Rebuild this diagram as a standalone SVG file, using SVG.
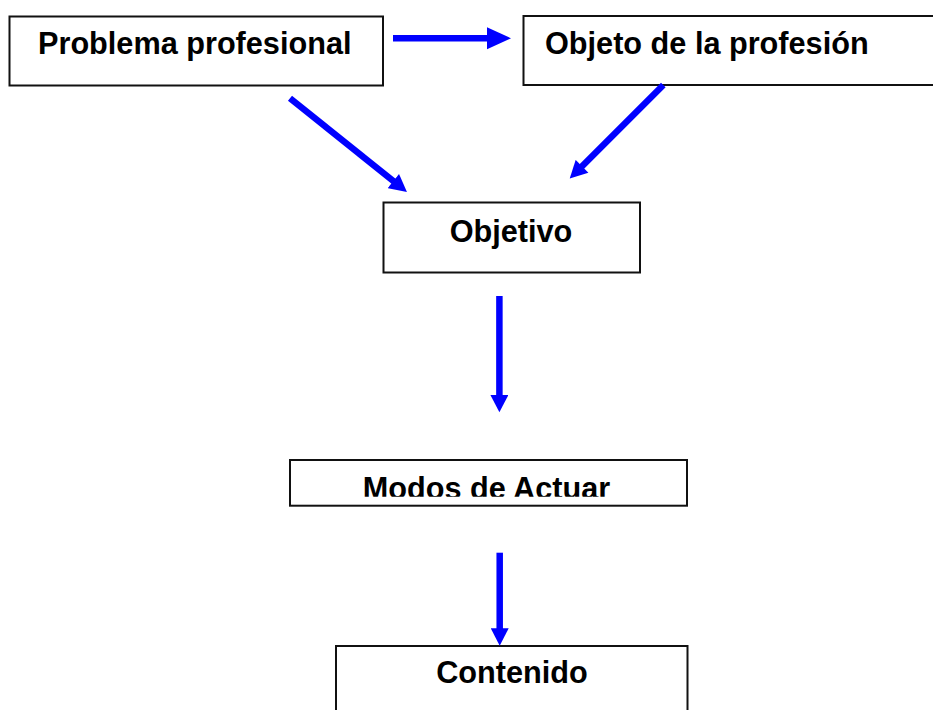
<svg xmlns="http://www.w3.org/2000/svg" width="933" height="710" viewBox="0 0 933 710">
<style>
.box{fill:#fff;stroke:#111;stroke-width:2}
.lbl{font-family:"Liberation Sans",Arial,sans-serif;font-weight:bold;font-size:30.67px;fill:#000}
.conn{stroke:#0000ff;stroke-width:6.5;fill:none}
</style>
<defs>
<marker id="ah" markerUnits="userSpaceOnUse" markerWidth="18" markerHeight="18" viewBox="0 0 17 17.6" refX="1" refY="8.8" orient="auto">
<path d="M0,0 L17,8.8 L0,17.6 z" fill="#0000ff"/>
</marker>
<marker id="ahb" markerUnits="userSpaceOnUse" markerWidth="24" markerHeight="23" viewBox="0 0 24 22" refX="1" refY="11" orient="auto">
<path d="M0,0 L24,11 L0,22 z" fill="#0000ff"/>
</marker>
<clipPath id="modclip"><rect x="290" y="460" width="397" height="36.7"/></clipPath>
</defs>
<g id="n1">
<rect class="box" x="9.5" y="16.5" width="373.5" height="69"/>
<text class="lbl" x="38" y="54">Problema profesional</text>
</g>
<g id="n2">
<rect class="box" x="523.5" y="16" width="420" height="69"/>
<text class="lbl" x="545" y="54">Objeto de la profesión</text>
</g>
<g id="n3">
<rect class="box" x="383.5" y="202.5" width="256.5" height="70"/>
<text class="lbl" x="511" y="241.7" text-anchor="middle">Objetivo</text>
</g>
<g id="n4">
<rect class="box" x="290" y="460" width="397" height="45.7"/>
<text class="lbl" x="362.7" y="498.5" clip-path="url(#modclip)">Modos de Actuar</text>
</g>
<g id="n5">
<rect class="box" x="336" y="646" width="351.5" height="80"/>
<text class="lbl" x="512" y="683.3" text-anchor="middle">Contenido</text>
</g>
<g id="connectors">
<line class="conn" x1="393" y1="38.3" x2="488" y2="38.3" marker-end="url(#ahb)"/>
<line class="conn" x1="290" y1="98.3" x2="394.2" y2="181.7" marker-end="url(#ah)"/>
<line class="conn" x1="663.3" y1="85" x2="581.3" y2="167" marker-end="url(#ah)"/>
<line class="conn" x1="499.4" y1="296" x2="499.4" y2="396" marker-end="url(#ah)"/>
<line class="conn" x1="499.7" y1="552.7" x2="499.7" y2="629.3" marker-end="url(#ah)"/>
</g>
</svg>
